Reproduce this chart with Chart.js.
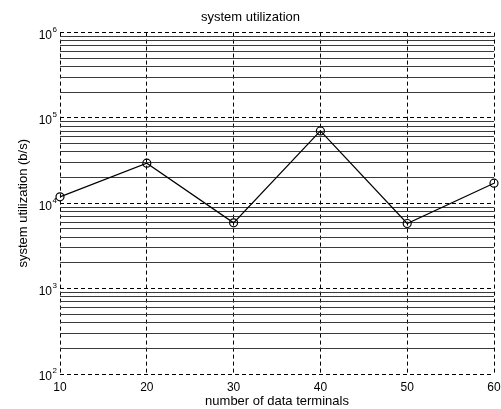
<!DOCTYPE html>
<html>
<head>
<meta charset="utf-8">
<script src="https://cdn.jsdelivr.net/npm/chart.js@4"></script>
<style>
  html, body { margin: 0; padding: 0; background: #fff; }
  #wrap { width: 501px; height: 409px; }
</style>
</head>
<body>
<div id="wrap"><canvas id="util" width="501" height="409"></canvas></div>
<script>
// system utilization vs number of data terminals (log y)

var terminals = [10, 20, 30, 40, 50, 60];
var utilization = [11900, 29500, 5900, 70500, 5800, 17200];

var xTicks = [10, 20, 30, 40, 50, 60];
var yDecades = [1e2, 1e3, 1e4, 1e5, 1e6];
var yExponents = ['2', '3', '4', '5', '6'];
var yMinorSteps = [2, 3, 4, 5, 6, 7, 8, 9];

var FONT = "'Liberation Sans', Arial, Helvetica, sans-serif";
var DASH = [4, 3];

Chart.defaults.font.family = FONT;
Chart.defaults.color = '#000';

var yMinor = [];
yDecades.slice(0, -1).forEach(function (d) {
  yMinorSteps.forEach(function (s) { yMinor.push(d * s); });
});

function toTicks(arr) {
  return arr.map(function (v) { return { value: v }; });
}

// "10" with a small exponent, like matlab's log axis labels
var decadeLabels = {
  id: 'decadeLabels',
  afterDraw: function (chart) {
    var ys = chart.scales.y;
    var ctx = chart.ctx;
    var xr = chart.chartArea.left - 8;
    ctx.save();
    ctx.fillStyle = '#000';
    ctx.textBaseline = 'middle';
    yDecades.forEach(function (d, i) {
      var py = ys.getPixelForValue(d);
      ctx.font = '12px ' + FONT;
      ctx.textAlign = 'right';
      ctx.fillText('10', xr, py + 3);
      ctx.font = '8px ' + FONT;
      ctx.textAlign = 'left';
      ctx.fillText(yExponents[i], xr + 0.5, py - 3);
    });
    ctx.restore();
  }
};

new Chart(document.getElementById('util'), {
  type: 'line',
  data: {
    datasets: [{
      data: terminals.map(function (t, i) { return { x: t, y: utilization[i] }; }),
      borderColor: '#000',
      borderWidth: 1.2,
      tension: 0,
      pointStyle: 'circle',
      pointRadius: 4,
      pointBorderWidth: 1.2,
      pointBorderColor: '#000',
      pointBackgroundColor: 'rgba(0,0,0,0)',
      clip: false
    }]
  },
  options: {
    responsive: false,
    animation: false,
    layout: { padding: { left: 0, right: 0, top: 0, bottom: 0 } },
    plugins: {
      legend: { display: false },
      tooltip: { enabled: false },
      title: {
        display: true,
        text: 'system utilization',
        color: '#000',
        font: { size: 13, weight: 'normal' },
        padding: { top: 10, bottom: 7 }
      }
    },
    scales: {
      x: {
        type: 'linear',
        min: 10,
        max: 60,
        afterBuildTicks: function (s) { s.ticks = toTicks(xTicks); },
        afterFit: function (s) { s.height = 35; s.paddingRight = 7; },
        ticks: { font: { size: 12 }, color: '#000', padding: 6, maxRotation: 0 },
        grid: { color: '#000', lineWidth: 1, drawTicks: false, borderDash: DASH },
        border: { display: false, dash: DASH },
        title: {
          display: true,
          text: 'number of data terminals',
          color: '#000',
          font: { size: 13 },
          padding: { top: 0, bottom: 0 }
        }
      },
      y: {
        type: 'logarithmic',
        position: 'left',
        min: 1e2,
        max: 1e6,
        afterBuildTicks: function (s) { s.ticks = toTicks(yMinor); },
        afterFit: function (s) { s.width = 60; },
        ticks: { display: false },
        grid: { color: '#3a3a3a', lineWidth: 1, drawTicks: false },
        border: { display: false },
        title: {
          display: true,
          text: 'system utilization (b/s)',
          color: '#000',
          font: { size: 13 },
          padding: { top: 16, bottom: 0 }
        }
      },
      y2: {
        type: 'logarithmic',
        position: 'left',
        min: 1e2,
        max: 1e6,
        afterBuildTicks: function (s) { s.ticks = toTicks(yDecades); },
        afterFit: function (s) { s.width = 0; },
        ticks: { display: false },
        grid: { color: '#000', lineWidth: 1, drawTicks: false, borderDash: DASH },
        border: { display: false, dash: DASH }
      }
    }
  },
  plugins: [decadeLabels]
});
</script>
</body>
</html>
